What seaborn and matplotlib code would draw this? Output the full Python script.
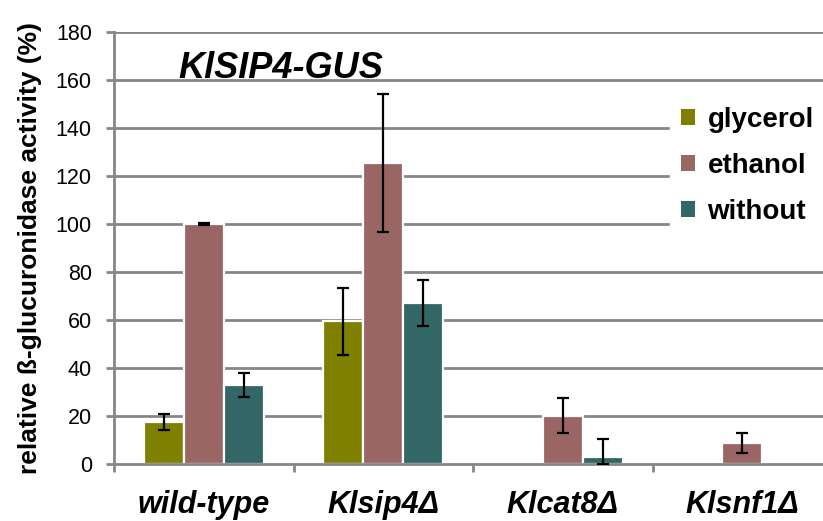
import numpy as np
import pandas as pd
import matplotlib
matplotlib.use("Agg")
import matplotlib.pyplot as plt
import seaborn as sns

strains = ["wild-type", "Klsip4Δ", "Klcat8Δ", "Klsnf1Δ"]
conditions = ["glycerol", "ethanol", "without"]
glycerol = [17.5, 59.5, 0.4, 0.4]
ethanol = [100.0, 125.5, 20.1, 8.7]
without = [33.0, 67.2, 3.0, 0.4]
glycerol_err = [3.3, 14.0, 0.0, 0.0]
ethanol_err = [0.4, 28.8, 7.3, 4.3]
without_err = [5.0, 9.6, 7.3, 0.0]
colors = ["#808000", "#996664", "#336666"]
yticks = [0, 20, 40, 60, 80, 100, 120, 140, 160, 180]

sns.set_theme(style="white")
plt.rcParams['font.family'] = ['Liberation Sans', 'DejaVu Sans']
plt.rcParams['text.color'] = 'black'
plt.rcParams['axes.labelcolor'] = 'black'
plt.rcParams['xtick.labelcolor'] = 'black'
plt.rcParams['ytick.labelcolor'] = 'black'

df = pd.DataFrame({
    "strain": np.repeat(strains, 3),
    "condition": conditions * len(strains),
    "value": [v for trio in zip(glycerol, ethanol, without) for v in trio],
})

fig = plt.figure(figsize=(8.23, 5.21), dpi=100)
ax = fig.add_axes([114 / 823, 57 / 521, 718 / 823, 432 / 521])

grid_c = "#868686"
for y in yticks[1:]:
    ax.axhline(y, color=grid_c, lw=2.0, zorder=0)

sns.barplot(data=df, x="strain", y="value", hue="condition", hue_order=conditions,
            order=strains, palette=colors, saturation=1, width=0.67, edgecolor="white",
            linewidth=1.6, errorbar=None, ax=ax, zorder=2, legend=True)

bar_containers = list(ax.containers)
series_vals = [glycerol, ethanol, without]
series_errs = [glycerol_err, ethanol_err, without_err]
for ci, cont in enumerate(bar_containers):
    vals = series_vals[ci]
    errs = series_errs[ci]
    for p, v, e in zip(cont.patches, vals, errs):
        if e <= 0:
            continue
        xc = p.get_x() + p.get_width() / 2
        lo = min(e, v)
        ax.errorbar(xc, v, yerr=[[lo], [e]], fmt="none", ecolor="black",
                    elinewidth=1.6, capsize=4, capthick=1.6, zorder=3)

ax.set_ylim(0, 180)
ax.set_xlim(-0.5, 3.5)
ax.set_yticks(yticks)
ax.set_yticklabels([str(t) for t in yticks], fontsize=15.5)
ax.set_xticks(range(4))
ax.set_xticklabels(strains, fontsize=22, fontweight="bold", fontstyle="italic")
ax.set_xticks([-0.5, 0.5, 1.5, 2.5, 3.5], minor=True)
ax.tick_params(axis="x", which="major", length=0, pad=19)
ax.tick_params(axis="x", which="minor", length=6, width=2.0, color=grid_c, direction="out", bottom=True)
ax.tick_params(axis="y", length=6, width=2.0, color=grid_c, direction="out", pad=10, left=True)
ax.set_xlabel("")
ax.set_ylabel("relative ß-glucuronidase activity (%)", fontsize=19, fontweight="bold", labelpad=10)

for s in ["top", "right"]:
    ax.spines[s].set_visible(False)
for s in ["left", "bottom"]:
    ax.spines[s].set_color(grid_c)
    ax.spines[s].set_linewidth(2.0)

ax.text(0.43, 172, "KlSIP4-GUS", fontsize=26, fontweight="bold", fontstyle="italic",
        ha="center", va="top", zorder=5)

leg = ax.legend(loc="upper left", bbox_to_anchor=(656 / 823, 1 - 82 / 521),
                bbox_transform=fig.transFigure, frameon=True, facecolor="white",
                edgecolor="white", framealpha=1, fancybox=False,
                handlelength=0.5, handleheight=0.5, handletextpad=0.45,
                labelspacing=0.72, borderpad=0.4, prop={"size": 20, "weight": "bold"})
leg.set_zorder(6)
for h in leg.legend_handles:
    h.set_edgecolor("none")

fig.savefig("out.png", dpi=100)
